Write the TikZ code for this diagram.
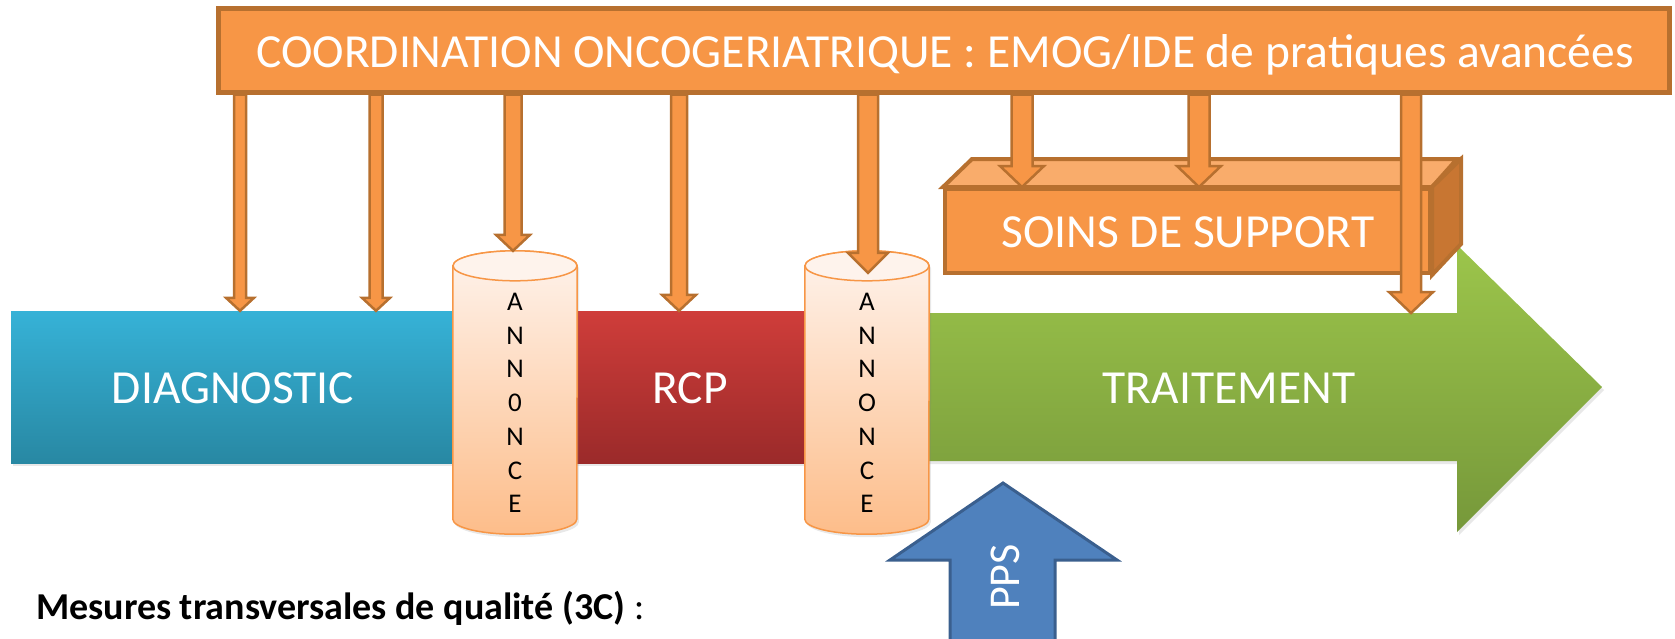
\documentclass[tikz,border=0pt]{standalone}
\usepackage{fontspec}
\setmainfont{Carlito}
\usetikzlibrary{calc,shadows}

\definecolor{orfill}{HTML}{F79646}
\definecolor{orline}{HTML}{B7702F}
\definecolor{ortop}{HTML}{F9AC6B}
\definecolor{orside}{HTML}{C87632}
\definecolor{bltop}{HTML}{36B2D7}
\definecolor{blbot}{HTML}{2888A3}
\definecolor{rdtop}{HTML}{CF3D3A}
\definecolor{rdbot}{HTML}{9B2A2A}
\definecolor{grtop}{HTML}{9CC54B}
\definecolor{grbot}{HTML}{76983A}
\definecolor{pchtop}{HTML}{FEF3EC}
\definecolor{pchbot}{HTML}{FDBD8A}
\definecolor{ppsfill}{HTML}{4F81BD}
\definecolor{ppsline}{HTML}{3A5F8E}

\tikzset{
  lbl/.style={text=white, inner sep=0pt, font=\fontsize{47.5}{57}\selectfont},
  shadowed/.style={drop shadow={opacity=0.18, shadow xshift=2pt, shadow yshift=-3pt}},
  band/.style={inner sep=0pt, shadowed},
  cylbody/.style={draw=orfill, line width=1.5pt, shadowed},
  cylline/.style={draw=orfill, line width=1.5pt},
  ann/.style={inner sep=0pt, align=center, text=black, font=\fontsize{27}{33.7}\selectfont},
  boxline/.style={draw=orline, line width=4pt, line join=miter},
  conn/.style={fill=orfill, draw=orline, line width=2.5pt, line join=miter},
}

% one of the two "annonce" cylinders: name, centre x, letters
\newcommand\annonce[3]{%
  \node[inner sep=0pt, minimum width=124pt, minimum height=283pt] (#1) at (#2,392.5) {};
  \path[cylbody, top color=pchtop, bottom color=pchbot]
    ($(#1.north west)+(0,15)$) -- ($(#1.south west)+(0,-15)$)
    arc[start angle=180, end angle=360, x radius=62pt, y radius=15pt]
    -- ($(#1.north east)+(0,15)$)
    arc[start angle=0, end angle=180, x radius=62pt, y radius=15pt] -- cycle;
  \draw[cylline, fill=pchtop] ($(#1.north)+(0,15)$) ellipse[x radius=62pt, y radius=15pt];
  \node[ann] (#1t) at (#2,403) {#3};
}

% block arrow from the coordination banner down to a target: name, x, target, half shaft, half head, head length
\newcommand\orarrow[6]{%
  \coordinate (#1x) at (#2,0);
  \coordinate (#1e) at (#1x |- #3);
  \coordinate (#1s) at (#1x |- coord.south);
  \filldraw[conn] ($(#1s)+(-#4,0)$) -- ($(#1e)+(-#4,-#6)$) -- ($(#1e)+(-#5,-#6)$)
    -- (#1e) -- ($(#1e)+(#5,-#6)$) -- ($(#1e)+(#4,-#6)$) -- ($(#1s)+(#4,0)$) -- cycle;
}

\begin{document}
\begin{tikzpicture}[x=1pt,y=-1pt]
\useasboundingbox (0,0) rectangle (1675,638);

% treatment arrow
\coordinate (gtl) at (905,313);
\path[band, top color=grtop, bottom color=grbot]
  (gtl) -- (1457,313) -- (1457,245) -- (1602,387) -- (1457,532) -- (1457,461) -- (905,461) -- cycle;
\node[lbl, anchor=base] (trait) at (1229,403) {TRAITEMENT};

% diagnostic band
\node[band, minimum width=448pt, minimum height=152pt, top color=bltop, bottom color=blbot] (diag) at (235,387) {};
\node[lbl, anchor=base] (diagt) at (233,403) {DIAGNOSTIC};

% RCP band
\node[band, minimum width=260pt, minimum height=152pt, top color=rdtop, bottom color=rdbot] (rcp) at (690,387) {};
\node[lbl, anchor=base] (rcpt) at (690,403) {RCP};

% announcement cylinders
\annonce{cyla}{515}{A\\N\\N\\0\\N\\C\\E}
\annonce{cylb}{867}{A\\N\\N\\O\\N\\C\\E}
\coordinate (cylbin) at ($(cylb.north)+(0,22)$);

% PPS arrow
\coordinate (ppstip) at (1003,483);
\filldraw[fill=ppsfill, draw=ppsline, line width=3pt, line join=miter]
  (ppstip) -- (1117,560) -- (1055,560) -- (1055,660) -- (950,660) -- (950,560) -- (890,560) -- cycle;
\node[lbl, font=\fontsize{44}{52}\selectfont, rotate=90] (pps) at (1005,577) {PPS};

% supportive care box
\node[draw=orline, line width=4pt, fill=orfill, minimum width=485pt, minimum height=84pt, inner sep=0pt] (soins) at (1187.5,231) {};
\filldraw[boxline, fill=ortop] (soins.north west) -- ++(29,-28) -- ++(485,0) -- (soins.north east) -- cycle;
\filldraw[boxline, fill=orside] (soins.north east) -- ++(29,-28) -- ++(0,85) -- (soins.south east) -- cycle;
\node[lbl, anchor=base] (soinst) at (1188,247) {SOINS DE SUPPORT};

% coordination banner
\node[draw=orline, line width=5pt, fill=orfill, minimum width=1451pt, minimum height=84pt, inner sep=0pt] (coord) at (943.5,50) {};
\node[lbl, anchor=base] (coordt) at (945,67) {COORDINATION ONCOGERIATRIQUE : EMOG/IDE de pratiques avancées};

% arrows from the banner
\orarrow{aa}{240}{diag.north}{6}{14}{13}
\orarrow{ab}{376}{diag.north}{6.5}{14}{13}
\orarrow{ac}{513}{cyla.north}{8.5}{17}{16}
\orarrow{ad}{679}{rcp.north}{8}{17}{16}
\orarrow{ae}{868}{cylbin}{10}{20}{20}
\orarrow{af}{1022}{soins.north}{10.5}{22}{21}
\orarrow{ag}{1199}{soins.north}{10.5}{22}{21}
\orarrow{ah}{1411}{gtl}{10}{22}{21}

% quality measures caption
\node[anchor=base west, inner sep=0pt, font=\fontsize{38}{46}\selectfont] (mesures) at (36,619)
  {\textbf{Mesures transversales de qualité (3C)} :};
\end{tikzpicture}
\end{document}
